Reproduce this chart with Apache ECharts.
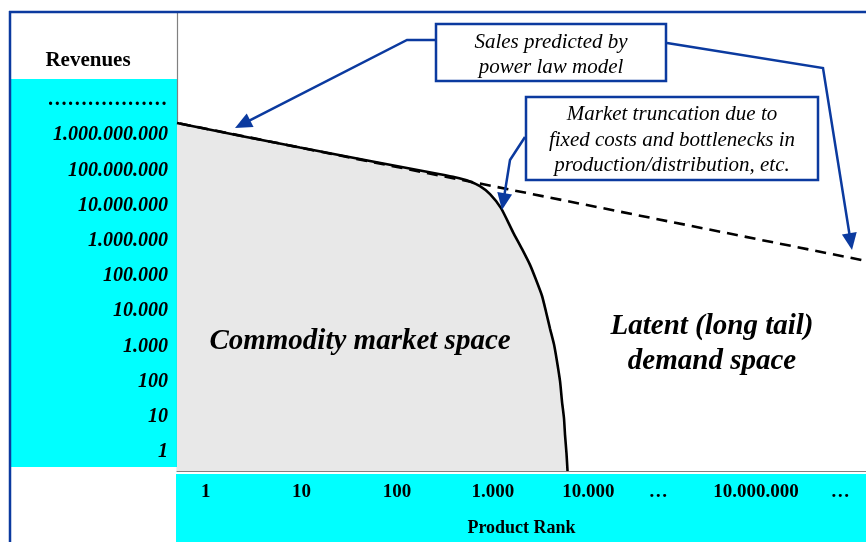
<!DOCTYPE html>
<html><head><meta charset="utf-8">
<script src="https://cdn.jsdelivr.net/npm/echarts@6/dist/echarts.min.js"></script>
<style>html,body{margin:0;padding:0;background:#fff}#c{width:866px;height:542px}</style>
</head><body><div id="c"></div>
<script>
// ---- Data (log10 units: x = product rank position on axis, y = revenue exponent) ----
const xTickValues = [0, 1, 2, 3, 4, 4.73, 5.75, 6.63];
const xTickLabels = ['1', '10', '100', '1.000', '10.000', '…', '10.000.000', '…'];
const yTickValues = [0, 1, 2, 3, 4, 5, 6, 7, 8, 9, 10];
const yTickLabels = ['1', '10', '100', '1.000', '10.000', '100.000', '1.000.000', '10.000.000', '100.000.000', '1.000.000.000', '………………'];
const marketRankLog    = [-0.3, 0.985, 2.448, 2.605, 2.741, 2.866, 2.971, 3.086, 3.211, 3.305, 3.389, 3.452, 3.514, 3.556, 3.598, 3.640, 3.671, 3.703, 3.723, 3.744, 3.755, 3.770, 3.781];
const marketRevenueLog = [9.231, 8.533, 7.775, 7.690, 7.591, 7.436, 7.210, 6.814, 6.135, 5.655, 5.202, 4.778, 4.326, 3.873, 3.393, 2.940, 2.460, 1.894, 1.329, 0.848, 0.368, -0.141, -0.65];
const powerLawRankLog    = [-0.27, 6.9];
const powerLawRevenueLog = [9.217, 5.315];

const FONT = "'Liberation Serif', 'Times New Roman', serif";
const BLUE = '#0b3a9f';
const CYAN = '#00ffff';

function pick(vals, labels, v) {
  let best = 0;
  for (let i = 1; i < vals.length; i++) if (Math.abs(vals[i] - v) < Math.abs(vals[best] - v)) best = i;
  return labels[best];
}

function arrow(pts) {
  const n = pts.length;
  const [tx, ty] = pts[n - 1], [px, py] = pts[n - 2];
  const dx = tx - px, dy = ty - py, len = Math.hypot(dx, dy);
  const ux = dx / len, uy = dy / len;
  const L = 17, W = 7.5;
  const bx = tx - ux * L, by = ty - uy * L;
  const line = pts.slice(0, n - 1).concat([[bx + ux * 2, by + uy * 2]]);
  return [
    { type: 'polyline', z: 100, shape: { points: line }, style: { stroke: BLUE, lineWidth: 2.5, fill: null } },
    { type: 'polygon', z: 100, shape: { points: [[tx, ty], [bx - uy * W, by + ux * W], [bx + uy * W, by - ux * W]] }, style: { fill: BLUE } }
  ];
}

function text(str, x, y, size, weight, style) {
  return { type: 'text', z: 100, x: x, y: y, style: {
    text: str, fontFamily: FONT, fontSize: size, fontWeight: weight, fontStyle: style,
    fill: '#000', textAlign: 'center', textVerticalAlign: 'middle', verticalAlign: 'middle' } };
}

const graphics = [
  { type: 'rect', z: -1, shape: { x: 11, y: 79, width: 166, height: 388 }, style: { fill: CYAN } },
  { type: 'rect', z: -1, shape: { x: 176, y: 474, width: 690, height: 68 }, style: { fill: CYAN } },
  { type: 'line', z: 100, shape: { x1: 10, y1: 11, x2: 10, y2: 542 }, style: { stroke: BLUE, lineWidth: 2.5 } },
  { type: 'line', z: 100, shape: { x1: 9, y1: 12, x2: 866, y2: 12 }, style: { stroke: BLUE, lineWidth: 2.5 } },
  text('Revenues', 88, 61, 21, 'bold', 'normal'),
  // annotation boxes
  { type: 'rect', z: 99, shape: { x: 436, y: 24, width: 230, height: 57 }, style: { fill: '#fff', stroke: BLUE, lineWidth: 2.5 } },
  text('Sales predicted by', 551, 42, 21, 'normal', 'italic'),
  text('power law model', 551, 67, 21, 'normal', 'italic'),
  { type: 'rect', z: 99, shape: { x: 526, y: 97, width: 292, height: 83 }, style: { fill: '#fff', stroke: BLUE, lineWidth: 2.5 } },
  text('Market truncation due to', 672, 114, 21, 'normal', 'italic'),
  text('fixed costs and bottlenecks in', 672, 140, 21, 'normal', 'italic'),
  text('production/distribution, etc.', 672, 165, 21, 'normal', 'italic'),
  // region labels
  text('Commodity market space', 360, 342, 29, 'bold', 'italic'),
  text('Latent (long tail)', 712, 327, 29, 'bold', 'italic'),
  text('demand space', 712, 362, 29, 'bold', 'italic')
]
  .concat(arrow([[435, 40], [407, 40], [235, 128]]))
  .concat(arrow([[667, 43], [823, 68], [852, 250]]))
  .concat(arrow([[525, 137], [510, 160], [502, 210]]));

const chart = echarts.init(document.getElementById('c'), null, { renderer: 'canvas' });
chart.setOption({
  backgroundColor: '#fff',
  animation: false,
  grid: { left: 177, right: 0, top: 12, bottom: 69, containLabel: false },
  xAxis: {
    type: 'value', min: -0.3, max: 6.9,
    axisLine: { show: true, onZero: false, lineStyle: { color: '#808080', width: 1.2 } },
    axisTick: { show: false }, splitLine: { show: false },
    axisLabel: {
      customValues: xTickValues, formatter: v => pick(xTickValues, xTickLabels, v),
      fontFamily: FONT, fontWeight: 'bold', fontSize: 19, color: '#000', margin: 12
    },
    name: 'Product Rank', nameLocation: 'middle', nameGap: 48,
    nameTextStyle: { fontFamily: FONT, fontWeight: 'bold', fontSize: 18, color: '#000' }
  },
  yAxis: {
    type: 'value', min: -0.65, max: 12.383,
    axisLine: { show: true, onZero: false, lineStyle: { color: '#808080', width: 1.2 } },
    axisTick: { show: false }, splitLine: { show: false },
    axisLabel: {
      customValues: yTickValues, formatter: v => pick(yTickValues, yTickLabels, v),
      fontFamily: FONT, fontWeight: 'bold', fontStyle: 'italic', fontSize: 20, color: '#000', margin: 9,
      verticalAlign: 'top', lineHeight: 8
    }
  },
  graphic: graphics,
  series: [
    {
      type: 'line', z: 1, data: marketRankLog.map((x, i) => [x, marketRevenueLog[i]]),
      showSymbol: false, smooth: 0.2,
      lineStyle: { width: 0, color: '#e8e8e8' }, areaStyle: { color: '#e8e8e8', opacity: 1, origin: 'start' }
    },
    {
      type: 'line', z: 2, data: powerLawRankLog.map((x, i) => [x, powerLawRevenueLog[i]]),
      showSymbol: false, lineStyle: { width: 2.6, color: '#000', type: [11, 7] }
    },
    {
      type: 'line', z: 3, data: marketRankLog.map((x, i) => [x, marketRevenueLog[i]]),
      showSymbol: false, smooth: 0.2,
      lineStyle: { width: 2.6, color: '#000' }
    }
  ]
});
</script></body></html>
